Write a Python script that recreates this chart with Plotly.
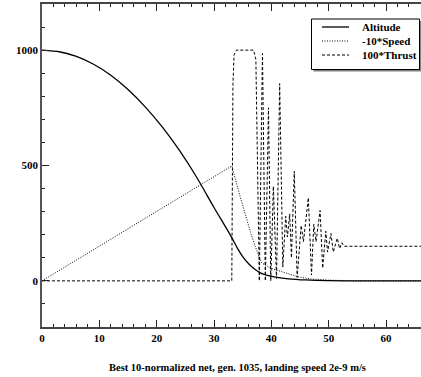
import plotly.graph_objects as go

# Altitude (solid)
alt_t = [0, 3, 6, 9, 12, 15, 18, 21, 24, 27, 30, 33, 34, 35, 36, 37, 38, 39, 40.5, 43, 46, 50, 55, 66.1]
alt_v = [1000, 993, 973, 939, 891, 829, 754, 666, 564, 448, 318, 192, 145, 105, 75, 52, 36, 26, 17, 9, 4, 1, 0, 0]

# -10*Speed (dotted)
spd_t = [0, 33.1, 34.5, 35.4, 36.5, 37.4, 38.3, 40.0, 42.6, 44.7, 47, 50, 55, 66.1]
spd_v = [0, 498, 370, 290, 200, 135, 78, 54, 32, 17, 8, 3, 0, 0]

# 100*Thrust (dashed)
thr_t = [0, 33.1, 33.3, 33.5, 33.9, 36.9, 37.3, 37.9, 38.45, 38.95, 39.5, 39.9, 40.35, 40.9,
         41.45, 42.0, 42.5, 42.8, 43.2, 43.5, 44.0, 44.5, 45.2, 45.6, 46.45, 47.0, 47.4, 47.8,
         48.5, 48.95, 49.5, 49.8, 50.4, 50.8, 51.5, 51.9, 52.3, 52.7, 66.1]
thr_v = [0, 0, 850, 980, 1000, 1000, 960, 0, 985, 0, 750, 0, 410, 10,
         855, 60, 280, 190, 290, 100, 475, 15, 240, 170, 360, 25, 245, 170,
         305, 55, 215, 125, 205, 125, 185, 140, 165, 150, 150]

names = ["Altitude", "-10*Speed", "100*Thrust"]
title = "Best 10-normalized net, gen. 1035, landing speed 2e-9 m/s"

FONT = "Liberation Serif"
styles = [dict(color="black", width=1.3),
          dict(color="black", width=1, dash="1px,1.5px"),
          dict(color="black", width=1, dash="3px,2px")]

fig = go.Figure()
fig.add_trace(go.Scatter(x=alt_t, y=alt_v, mode="lines", name=names[0],
                         line=dict(**styles[0], shape="spline", smoothing=0.6)))
fig.add_trace(go.Scatter(x=spd_t, y=spd_v, mode="lines", name=names[1], line=styles[1]))
fig.add_trace(go.Scatter(x=thr_t, y=thr_v, mode="lines", name=names[2], line=styles[2]))

W, H = 421, 377
L, R, T, B = 42, 0, 4, 50
pw, ph = W - L - R, H - T - B

def px(p):
    return (p - L) / pw

def py(p):
    return 1 - (p - T) / ph

# legend box (drawn by hand for compact rows)
fig.add_shape(type="rect", xref="paper", yref="paper",
              x0=px(313.5), x1=px(421.5), y0=py(71.5), y1=py(21),
              fillcolor="#808080", line=dict(width=0), layer="above")
fig.add_shape(type="rect", xref="paper", yref="paper",
              x0=px(311.5), x1=px(419.5), y0=py(69.5), y1=py(19),
              fillcolor="white", line=dict(color="black", width=1), layer="above")
row_y = [27, 41, 55]
for name, st, ry in zip(names, styles, row_y):
    fig.add_shape(type="line", xref="paper", yref="paper",
                  x0=px(322), x1=px(349), y0=py(ry), y1=py(ry),
                  line=st, layer="above")
    fig.add_annotation(text="<b>" + name + "</b>", xref="paper", yref="paper",
                       x=px(360), y=py(ry), showarrow=False, xanchor="left", yanchor="middle",
                       font=dict(family=FONT, size=11, color="black"))

fig.add_annotation(text="<b>" + title + "</b>", xref="paper", yref="paper",
                   x=px(237.5), y=py(368), showarrow=False,
                   xanchor="center", yanchor="middle",
                   font=dict(family=FONT, size=10.5, color="black"))

fig.update_layout(
    width=W, height=H,
    margin=dict(l=L, r=R, t=T, b=B),
    paper_bgcolor="white", plot_bgcolor="white",
    showlegend=False,
    font=dict(family=FONT, color="black"),
)
fig.update_xaxes(range=[0, 66.1], dtick=10, tick0=0, ticks="inside", ticklen=7,
                 tickwidth=1, tickcolor="#222", showline=True, linecolor="#444", linewidth=1.5,
                 mirror="ticks", showgrid=False, zeroline=False,
                 tickfont=dict(family=FONT, size=11, color="black", weight="bold"),
                 minor=dict(dtick=2, ticks="inside", ticklen=3, tickcolor="#222", tickwidth=1, showgrid=False))
fig.update_yaxes(range=[-200, 1200], dtick=500, tick0=0, ticks="inside", ticklen=7,
                 tickwidth=1, tickcolor="#222", showline=True, linecolor="#555", linewidth=1.5,
                 mirror=False, showgrid=False, zeroline=False,
                 tickfont=dict(family=FONT, size=11, color="black", weight="bold"),
                 minor=dict(dtick=100, ticks="inside", ticklen=3, tickcolor="#222", tickwidth=1, showgrid=False))

fig.write_html("out.html", config={"displayModeBar": False},
               post_script="document.body.style.margin='0';document.body.style.padding='0';")
